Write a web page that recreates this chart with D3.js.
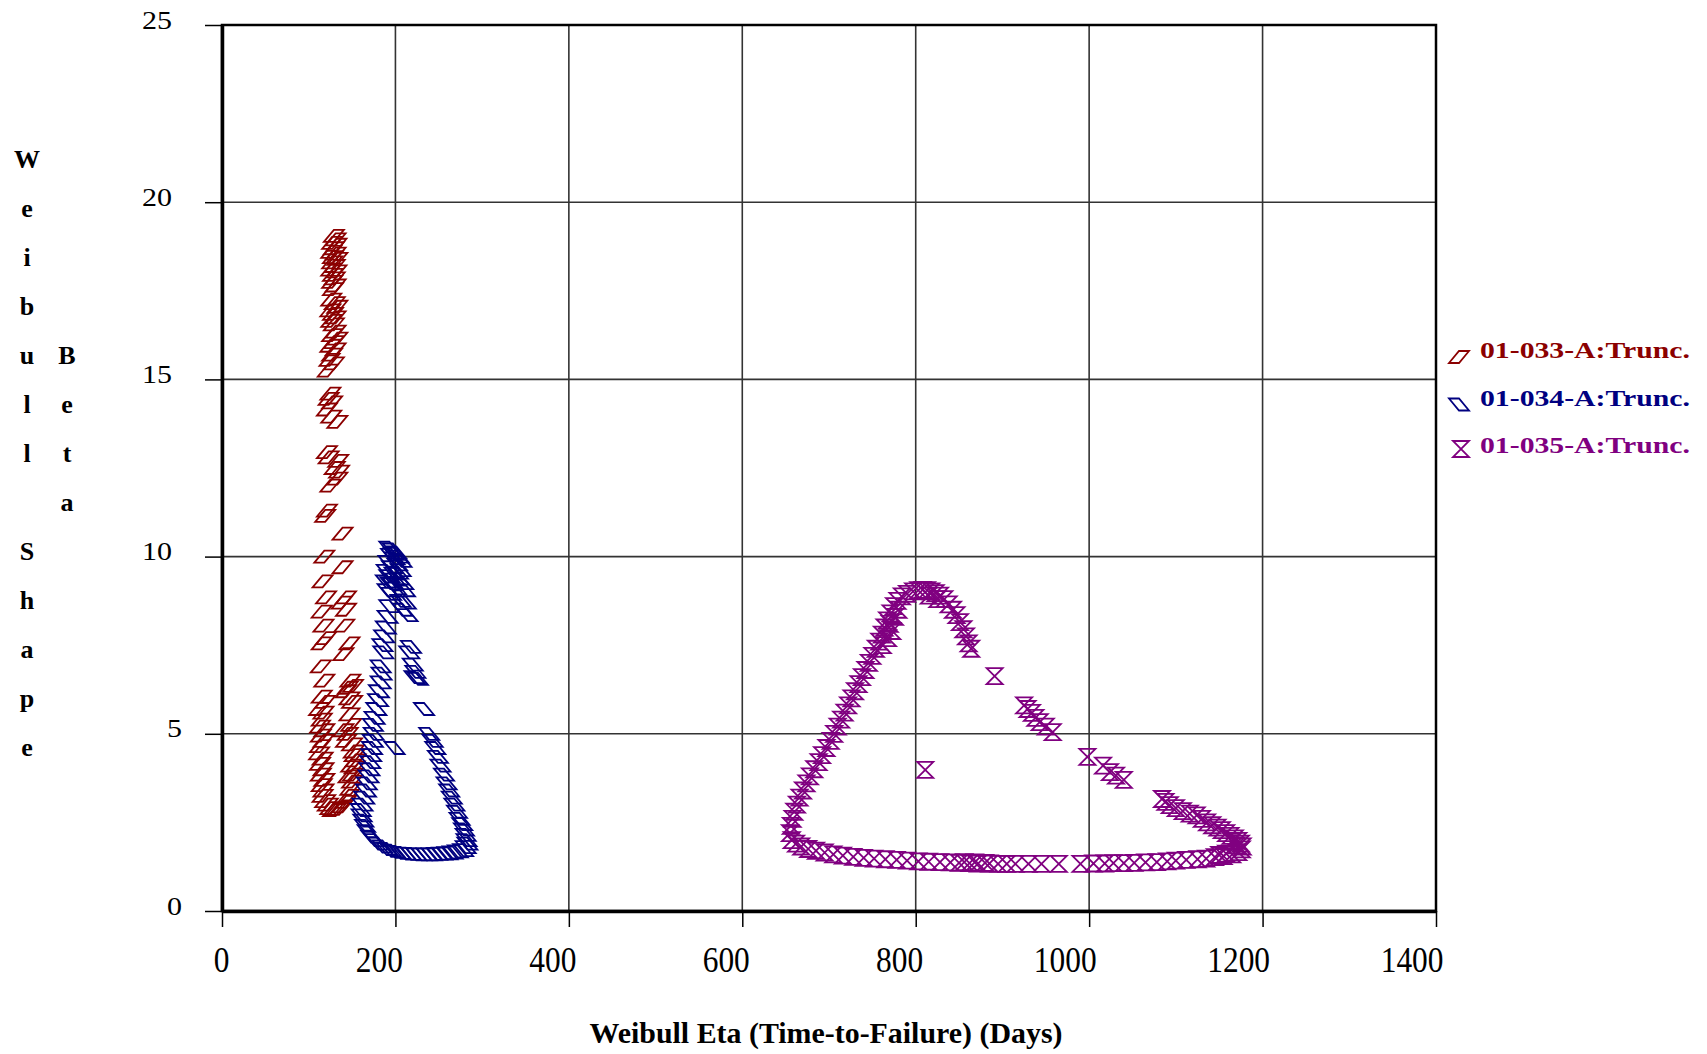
<!DOCTYPE html>
<html>
<head>
<meta charset="utf-8">
<script src="https://cdn.jsdelivr.net/npm/d3@7"></script>
<style>
  body { margin: 0; background: #fff; }
  svg { display: block; }
</style>
</head>
<body>
<script>
let width = 1707
let height = 1054

// axis ticks
let xTicks = [0, 200, 400, 600, 800, 1000, 1200, 1400]
let yTicks = [0, 5, 10, 15, 20, 25]

let seriesNames = ["01-033-A:Trunc.", "01-034-A:Trunc.", "01-035-A:Trunc."]
let seriesColors = ["#8b0000", "#000080", "#800080"]

// [eta, beta] pairs
let s033 = [
  [129,19.05],[131,18.95],[127,18.85],[132,18.8],[129,18.7],[126,18.6],[131,18.55],[128,18.45],[133,18.4],
  [127,18.3],[130,18.2],[126,18.1],[132,18.05],[128,17.95],[130,17.85],[127,17.75],[131,17.65],[128,17.55],
  [126,17.25],[130,17.15],[133,17.05],[125,16.95],[128,16.85],[131,16.75],[126,16.65],[129,16.55],
  [131,16.35],[127,16.25],[133,16.15],[129,16.05],[125,15.95],[131,15.85],[127,15.7],[124,15.55],[129,15.45],[122,15.25],
  [125,14.6],[121,14.15],[127,14.35],[133,13.8],[126,13.95],[123,14.45],
  [121,12.95],[134,12.7],[123,12.8],[135,12.4],[133,12.2],[125,12.0],[130,12.5],
  [121,11.3],[119,11.15],[139,10.65],[118,10.0],[139,9.7],
  [116,9.3],[120,8.85],[143,8.85],[138,8.7],[115,8.45],[143,8.5],[117,8.05],[141,8.05],[120,7.7],[147,7.55],[115,7.55],[140,7.25],
  [114,6.9],[118,6.5],[148,6.5],[143,6.2],[151,6.35],[115,6.05],[119,5.9],[147,6.0],[150,5.9],[145,6.3],
  [112,5.7],[117,5.6],[115,5.4],[113,5.2],[118,5.1],[114,4.95],[117,4.8],[113,4.65],
  [147,5.55],[149,5.25],[143,4.8],[152,4.5],[140,5.1],[145,5.0],[150,4.7],
  [112,4.45],[116,4.3],[113,4.15],[117,4.0],[114,3.85],[118,3.7],[115,3.55],[117,3.4],[116,3.25],[119,3.1],
  [122,3.0],[125,2.9],[128,2.85],[131,2.85],[135,2.88],[139,2.95],[143,3.08],
  [146,3.25],[148,3.45],[150,3.65],[151,3.85],[153,4.05],[154,4.25],[153,4.4],[149,4.1],[146,3.8]
]

let s034 = [
  [193,10.25],[197,10.2],[201,10.12],[195,10.05],[204,10.0],[199,9.95],[207,9.88],[192,9.85],[202,9.78],
  [196,9.7],[206,9.62],[190,9.6],[199,9.52],[193,9.45],[204,9.38],[189,9.3],[197,9.22],[209,9.25],
  [211,9.05],[191,9.05],[201,9.1],[195,8.95],[198,10.08],[203,9.55],[194,9.25],[200,9.35],
  [206,8.75],[212,8.7],[208,8.5],[214,8.35],[218,7.45],[216,7.3],[220,6.95],[223,6.75],[226,6.55],[222,6.6],
  [233,5.7],[239,5.0],[243,4.8],[246,4.6],[249,4.35],[252,4.1],[256,3.85],[259,3.6],[262,3.4],[265,3.2],
  [268,3.0],[271,2.8],[274,2.6],[277,2.45],[279,2.3],[281,2.15],[282,2.0],[283,1.9],[281,1.8],[278,1.72],
  [272,1.68],[266,1.65],[260,1.63],[254,1.62],[248,1.61],[242,1.6],[236,1.6],[230,1.6],[224,1.6],[218,1.61],
  [212,1.62],[206,1.64],[200,1.67],[195,1.7],[190,1.75],[185,1.82],[180,1.9],[176,2.0],[172,2.1],[168,2.25],
  [165,2.4],[163,2.55],[161,2.7],[160,2.85],
  [162,3.0],[164,3.2],[166,3.4],[167,3.6],[169,3.8],[170,4.0],[171,4.2],[172,4.4],[173,4.6],[174,4.8],
  [175,5.0],[174,5.25],[176,5.45],[178,5.7],[180,5.95],[181,6.2],[183,6.45],[184,6.7],[183,6.9],[186,7.3],
  [185,7.5],[187,7.75],[189,8.0],[191,8.3],[193,8.6],
  [199,4.6]
]

let s035 = [
  [657,2.0],[655,2.2],[656,2.4],[658,2.6],[660,2.8],[663,3.0],[666,3.2],[670,3.4],[674,3.6],[678,3.8],
  [683,4.0],[688,4.2],[692,4.4],[697,4.6],[702,4.8],[706,5.0],[710,5.2],[714,5.4],[718,5.6],[722,5.8],
  [726,6.0],[730,6.2],[734,6.4],[738,6.6],[742,6.8],[746,7.0],[750,7.2],[754,7.4],[758,7.6],[761,7.8],
  [764,8.0],[767,8.2],[771,8.4],[775,8.6],[779,8.75],[784,8.88],[790,8.95],[797,9.02],
  [770,8.1],[773,7.9],[768,7.7],[776,8.3],[780,8.5],[762,7.5],
  [803,9.05],[808,9.06],[813,9.05],[818,9.02],[823,8.97],[828,8.9],[833,8.8],[838,8.65],[843,8.5],
  [847,8.35],[851,8.15],[855,7.95],[858,7.75],[861,7.55],[864,7.4],[815,8.9],[825,8.8],
  [891,6.63],
  [925,5.8],[929,5.7],[934,5.59],[938,5.45],[943,5.33],[950,5.2],[958,5.05],
  [998,4.35],[1016,4.1],[1024,3.92],[1031,3.82],[1040,3.7],
  [1084,3.16],[1088,3.08],[1093,2.99],[1100,2.9],[1108,2.82],[1116,2.75],[1124,2.7],[1130,2.6],[1136,2.5],
  [1142,2.42],[1148,2.35],[1153,2.28],[1158,2.2],[1163,2.12],[1168,2.05],[1172,1.98],[1175,1.9],[1177,1.82],
  [1176,1.74],[1172,1.66],[1170,1.85],[1165,1.95],
  [1165,1.6],[1155,1.55],[1145,1.52],[1135,1.48],[1125,1.46],[1112,1.44],[1100,1.42],[1090,1.4],[1078,1.38],
  [1065,1.37],[1052,1.36],[1040,1.35],[1028,1.35],[1018,1.34],[1005,1.34],[990,1.33],[965,1.33],[945,1.33],
  [930,1.33],[915,1.33],[905,1.33],[895,1.33],[885,1.34],[872,1.34],[862,1.35],[850,1.36],[840,1.37],
  [828,1.38],[815,1.39],[803,1.4],[790,1.42],[778,1.44],[765,1.46],[752,1.48],[740,1.5],[728,1.53],
  [716,1.56],[705,1.6],[695,1.65],[685,1.7],[676,1.75],[668,1.82],[662,1.9],
  [880,1.36],[868,1.37],[856,1.38],[1158,1.62],[1150,1.58],
  [811,3.98]
]

let allSeries = [s033, s034, s035]

// marker shapes: slanted parallelograms and an hourglass
let markerPaths = [
  "M-10,6H0L10,-6H0Z",
  "M-10,-6H0L10,6H0Z",
  "M-8,-8H8L-8,8H8Z"
]

let svg = d3.select("body")
            .append("svg")
            .attr("width", width)
            .attr("height", height)

let xScale = d3.scaleLinear().domain([0, 1400]).range([222, 1436])
let yScale = d3.scaleLinear().domain([0, 25]).range([911, 25])

// grid
svg.append("g")
    .selectAll("line")
    .data(xTicks.slice(1, -1))
    .enter()
    .append("line")
    .attr("x1", d => xScale(d)).attr("x2", d => xScale(d))
    .attr("y1", yScale(0)).attr("y2", yScale(25))
    .attr("stroke", "#333").attr("stroke-width", 1.6)

svg.append("g")
    .selectAll("line")
    .data(yTicks.slice(1, -1))
    .enter()
    .append("line")
    .attr("x1", xScale(0)).attr("x2", xScale(1400))
    .attr("y1", d => yScale(d)).attr("y2", d => yScale(d))
    .attr("stroke", "#333").attr("stroke-width", 1.6)

// frame
svg.append("rect")
    .attr("x", xScale(0)).attr("y", yScale(25))
    .attr("width", xScale(1400) - xScale(0))
    .attr("height", yScale(0) - yScale(25))
    .attr("fill", "none")
    .attr("stroke", "#000")
    .attr("stroke-width", 2.5)

// axes
let xAxis = d3.axisBottom(xScale).tickValues(xTicks).tickSize(16).tickSizeOuter(0).tickFormat(d3.format("d"))
let yAxis = d3.axisLeft(yScale).tickValues(yTicks).tickSize(17).tickSizeOuter(0).tickFormat(d3.format("d"))

let gx = svg.append("g")
    .attr("transform", "translate(0," + yScale(0) + ")")
    .call(xAxis)
gx.select(".domain").attr("stroke-width", 3.5)
gx.selectAll(".tick line").attr("stroke-width", 1.5)
gx.selectAll(".tick text")
    .attr("y", 61).attr("dy", 0).attr("x", 7)
    .attr("text-anchor", "end")
    .attr("font-family", "'Liberation Serif', serif")
    .attr("font-size", 36)
    .attr("fill", "#000")
    .attr("textLength", d => String(d).length * 15.7)
    .attr("lengthAdjust", "spacingAndGlyphs")

let gy = svg.append("g")
    .attr("transform", "translate(" + xScale(0) + ",0)")
    .call(yAxis)
gy.select(".domain").attr("stroke-width", 3.5)
gy.selectAll(".tick line").attr("stroke-width", 1.5)
gy.selectAll(".tick text")
    .attr("y", 3).attr("dy", 0)
    .attr("x", d => String(d).length > 1 ? -50 : -40)
    .attr("text-anchor", "end")
    .attr("font-family", "'Liberation Serif', serif")
    .attr("font-size", 26)
    .attr("fill", "#000")
    .attr("textLength", d => String(d).length * 15)
    .attr("lengthAdjust", "spacingAndGlyphs")

// points
allSeries.forEach((data, i) => {
    svg.append("g")
        .selectAll("path")
        .data(data)
        .enter()
        .append("path")
        .attr("d", markerPaths[i])
        .attr("transform", d => "translate(" + xScale(d[0]) + "," + yScale(d[1]) + ")")
        .attr("fill", "none")
        .attr("stroke", seriesColors[i])
        .attr("stroke-width", 1.8)
})

// legend
let legend = svg.append("g").attr("transform", "translate(1459,358)")
seriesNames.forEach((name, i) => {
    let row = legend.append("g").attr("transform", "translate(0," + (i * 47.5) + ")")
    row.append("path")
        .attr("d", markerPaths[i])
        .attr("transform", i == 2 ? "translate(2,-4)" : "translate(0,-1)")
        .attr("fill", "none")
        .attr("stroke", seriesColors[i])
        .attr("stroke-width", 1.8)
    row.append("text")
        .attr("x", 21).attr("y", 0)
        .attr("font-family", "'Liberation Serif', serif")
        .attr("font-weight", "bold")
        .attr("font-size", 24)
        .attr("fill", seriesColors[i])
        .attr("textLength", 210)
        .attr("lengthAdjust", "spacingAndGlyphs")
        .text(name)
})

// x title
svg.append("text")
    .attr("x", 826).attr("y", 1043)
    .attr("text-anchor", "middle")
    .attr("font-family", "'Liberation Serif', serif")
    .attr("font-weight", "bold")
    .attr("font-size", 30)
    .attr("textLength", 473)
    .attr("lengthAdjust", "spacingAndGlyphs")
    .text("Weibull Eta (Time-to-Failure) (Days)")

// y title, stacked letters in two columns
let yTitleCols = [
  { text: "Weibull Shape", x: 27, start: 0 },
  { text: "Beta", x: 67, start: 4 }
]
yTitleCols.forEach(col => {
    svg.append("g")
        .selectAll("text")
        .data(col.text.split(""))
        .enter()
        .append("text")
        .attr("x", col.x)
        .attr("y", (c, j) => 168 + 49 * (col.start + j))
        .attr("text-anchor", "middle")
        .attr("font-family", "'Liberation Serif', serif")
        .attr("font-weight", "bold")
        .attr("font-size", 26)
        .text(c => c)
})
</script>
</body>
</html>
